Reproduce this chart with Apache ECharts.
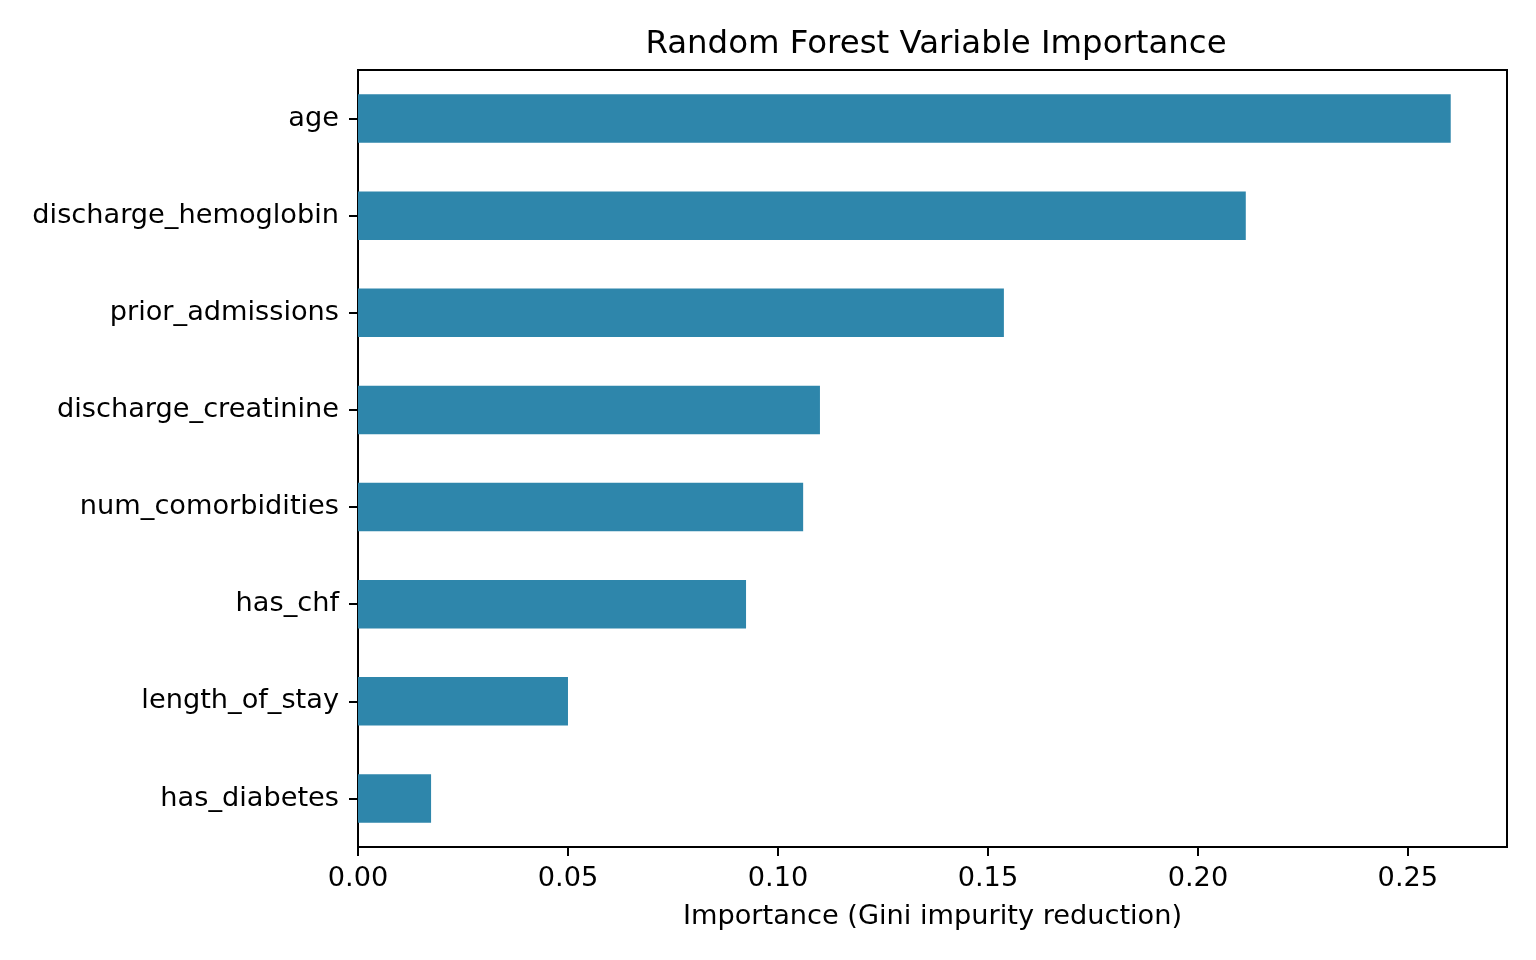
<!DOCTYPE html>
<html>
<head>
    <meta charset="utf-8">
    <title>Random Forest Variable Importance</title>
    <script src="https://cdn.jsdelivr.net/npm/echarts@6/dist/echarts.min.js"></script>
    <style>
        html, body { margin: 0; padding: 0; background: #fff; }
    </style>
</head>
<body>
<div id="main" style="width: 1536px;height:960px;"></div>
<script type="text/javascript">
    // features, top to bottom
    var features = ['age', 'discharge_hemoglobin', 'prior_admissions', 'discharge_creatinine',
        'num_comorbidities', 'has_chf', 'length_of_stay', 'has_diabetes'];
    var importance = [0.2602, 0.2114, 0.1538, 0.1100, 0.1060, 0.0924, 0.0500, 0.0174];
    var xTicks = [0.00, 0.05, 0.10, 0.15, 0.20, 0.25];

    var font = 'DejaVu Sans';
    var myChart = echarts.init(document.getElementById('main'));
    var option = {
        backgroundColor: '#fff',
        animation: false,
        title: {
            text: 'Random Forest Variable Importance',
            left: 931,
            top: 24,
            textAlign: 'center',
            textStyle: {fontFamily: font, fontSize: 32.4, fontWeight: 'normal', color: '#000'}
        },
        grid: {
            left: 358, right: 29, top: 70, bottom: 113,
            show: true, borderColor: '#000', borderWidth: 2, backgroundColor: 'transparent'
        },
        xAxis: {
            type: 'value',
            min: 0,
            max: 0.2736,
            interval: 0.05,
            name: 'Importance (Gini impurity reduction)',
            nameLocation: 'middle',
            nameGap: 56,
            nameTextStyle: {fontFamily: font, fontSize: 27.2, color: '#000'},
            axisLine: {show: true, lineStyle: {color: '#000', width: 2}},
            axisTick: {show: true, length: 9, lineStyle: {color: '#000', width: 2}},
            splitLine: {show: false},
            axisLabel: {
                fontFamily: font, fontSize: 27.2, color: '#000', margin: 18,
                showMaxLabel: false,
                formatter: function (v) {
                    for (var i = 0; i < xTicks.length; i++) {
                        if (Math.abs(v - xTicks[i]) < 1e-9) return xTicks[i].toFixed(2);
                    }
                    return '';
                }
            }
        },
        yAxis: {
            type: 'category',
            data: features,
            inverse: true,
            axisLine: {show: true, lineStyle: {color: '#000', width: 2}},
            axisTick: {show: true, alignWithLabel: true, length: 9, lineStyle: {color: '#000', width: 2}},
            axisLabel: {fontFamily: font, fontSize: 27.2, color: '#000', margin: 19, padding: [6, 0, 0, 0]}
        },
        series: [{
            type: 'bar',
            data: importance,
            barWidth: '50%',
            itemStyle: {color: '#2E86AB'}
        }]
    };
    myChart.setOption(option);
</script>
</body>
</html>
